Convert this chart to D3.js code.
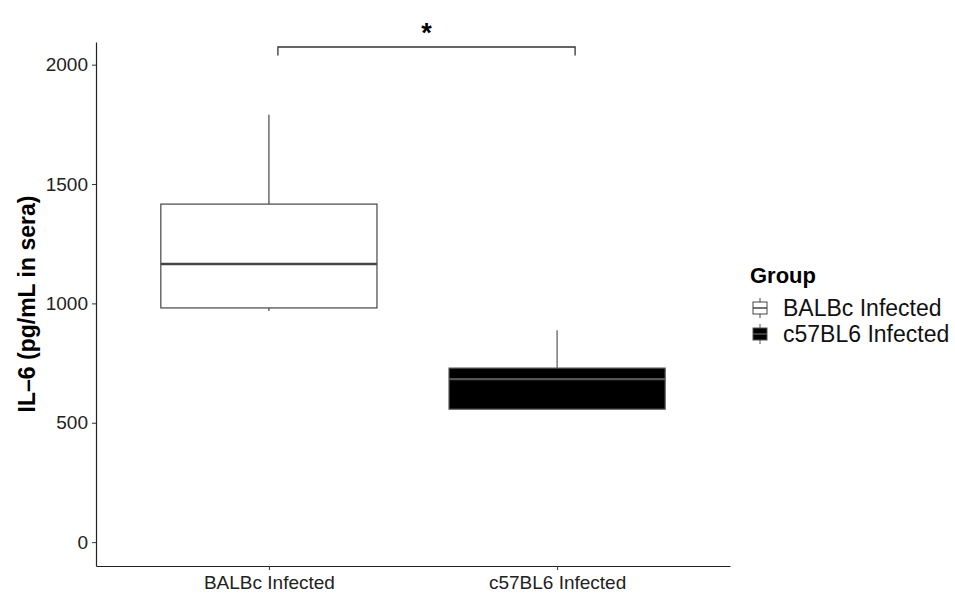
<!DOCTYPE html>
<html>
<head>
<meta charset="utf-8">
<script src="https://cdn.jsdelivr.net/npm/d3@7"></script>
<style>
  body { margin: 0; background: #fff; }
  svg { font-family: "Liberation Sans", Arial, sans-serif; }
  .tick text { font-size: 19px; fill: #222; }
</style>
</head>
<body>
<svg id="chart" width="955" height="594"></svg>
<script>
// data
var groups = ["BALBc Infected", "c57BL6 Infected"];
var lowerWhisker = [968, 557];
var q1 = [981, 557];
var median = [1165, 683];
var q3 = [1416, 729];
var upperWhisker = [1790, 888];
var fills = ["#ffffff", "#000000"];
var lineColors = ["#444444", "#555555"];
var yTicks = [0, 500, 1000, 1500, 2000];
var bracketY = 2074, bracketDrop = 36;

var svg = d3.select("#chart");
var plotL = 96, plotR = 730, plotT = 42, plotB = 566;

var x = d3.scalePoint().domain(groups).range([plotL, plotR]).padding(0.6);
var y = d3.scaleLinear().domain([-100, 2095]).range([plotB, plotT]);
var boxW = x.step() * 0.75;

// axes
var yAxis = svg.append("g")
  .attr("transform", "translate(" + plotL + ",0)")
  .call(d3.axisLeft(y).tickValues(yTicks).tickFormat(d3.format("d"))
    .tickSize(4).tickSizeOuter(0).tickPadding(4));
var xAxis = svg.append("g")
  .attr("transform", "translate(0," + plotB + ")")
  .call(d3.axisBottom(x).tickSize(4).tickSizeOuter(0).tickPadding(4));
[yAxis, xAxis].forEach(function (g) {
  g.select(".domain").attr("stroke", "#222").attr("stroke-width", 1.2);
  g.selectAll(".tick line").attr("stroke", "#333");
});
xAxis.selectAll(".tick text").attr("dy", "0.8em");

svg.append("text")
  .attr("transform", "translate(35," + ((plotT + plotB) / 2) + ") rotate(-90)")
  .attr("text-anchor", "middle")
  .style("font-size", "23px").style("font-weight", "bold")
  .text("IL-6 (pg/mL in sera)".replace("-", "\u2013"));

// boxes
groups.forEach(function (g, i) {
  var cx = x(g);
  var box = svg.append("g");
  box.append("line")
    .attr("x1", cx).attr("x2", cx)
    .attr("y1", y(upperWhisker[i])).attr("y2", y(q3[i]))
    .attr("stroke", lineColors[i]).attr("stroke-width", 1.2);
  box.append("line")
    .attr("x1", cx).attr("x2", cx)
    .attr("y1", y(q1[i])).attr("y2", y(lowerWhisker[i]))
    .attr("stroke", lineColors[i]).attr("stroke-width", 1.2);
  box.append("rect")
    .attr("x", cx - boxW / 2).attr("width", boxW)
    .attr("y", y(q3[i])).attr("height", y(q1[i]) - y(q3[i]))
    .attr("fill", fills[i]).attr("stroke", lineColors[i]).attr("stroke-width", 1.2);
  box.append("line")
    .attr("x1", cx - boxW / 2).attr("x2", cx + boxW / 2)
    .attr("y1", y(median[i])).attr("y2", y(median[i]))
    .attr("stroke", lineColors[i]).attr("stroke-width", 2.4);
});

// significance bracket
var bx1 = x(groups[0]) + 9, bx2 = x(groups[1]) + 18;
svg.append("path")
  .attr("d", "M" + bx1 + "," + y(bracketY - bracketDrop) + "V" + y(bracketY) +
    "H" + bx2 + "V" + y(bracketY - bracketDrop))
  .attr("fill", "none").attr("stroke", "#333").attr("stroke-width", 1.3);
svg.append("text")
  .attr("x", (bx1 + bx2) / 2).attr("y", y(bracketY) - 5)
  .attr("text-anchor", "middle")
  .style("font-size", "27px").style("font-weight", "bold")
  .text("*");

// legend
var lg = svg.append("g").attr("transform", "translate(750,0)");
lg.append("text").attr("x", 0).attr("y", 283)
  .style("font-size", "22px").style("font-weight", "bold").text("Group");
groups.forEach(function (g, i) {
  var cy = 308 + i * 26;
  var k = lg.append("g");
  k.append("line").attr("x1", 10).attr("x2", 10).attr("y1", cy - 10).attr("y2", cy + 10)
    .attr("stroke", lineColors[i]).attr("stroke-width", 1);
  k.append("rect").attr("x", 3).attr("y", cy - 6).attr("width", 14).attr("height", 12)
    .attr("fill", fills[i]).attr("stroke", lineColors[i]).attr("stroke-width", 1);
  k.append("line").attr("x1", 3).attr("x2", 17).attr("y1", cy).attr("y2", cy)
    .attr("stroke", lineColors[i]).attr("stroke-width", 1.5);
  lg.append("text").attr("x", 33).attr("y", cy + 8)
    .style("font-size", "23px").style("fill", "#111").text(g);
});
</script>
</body>
</html>
